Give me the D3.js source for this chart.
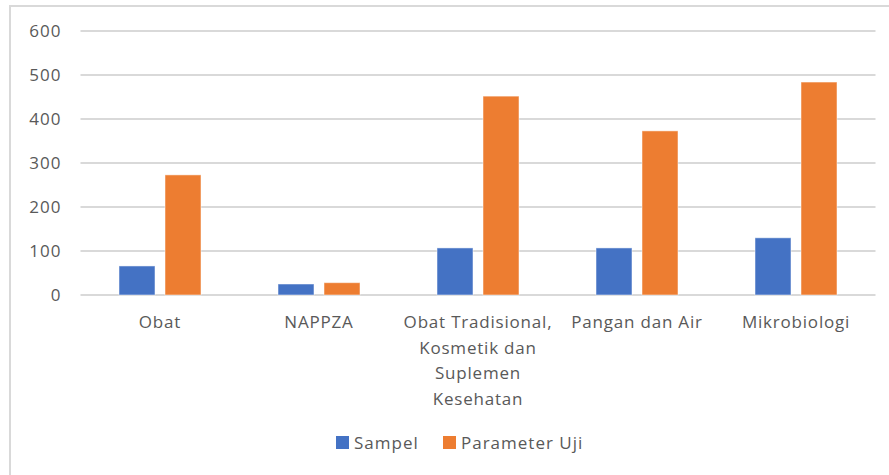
<!DOCTYPE html>
<html>
<head>
<meta charset="utf-8">
<script src="https://cdn.jsdelivr.net/npm/d3@7"></script>
<style>
  body { margin: 0; background: #fff; }
  text { font-family: "Open Sans", "Liberation Sans", sans-serif; fill: #595959; }
</style>
</head>
<body>
<svg id="chart"></svg>
<script>
const categories = ["Obat", "NAPPZA", "Obat Tradisional, Kosmetik dan Suplemen Kesehatan", "Pangan dan Air", "Mikrobiologi"];
const seriesNames = ["Sampel", "Parameter Uji"];
const sampel = [66, 25, 107, 107, 130];
const parameterUji = [273, 28, 452, 373, 484];
const yTicks = [0, 100, 200, 300, 400, 500, 600];
const colors = ["#4472c4", "#ed7d31"];

const W = 889, H = 475;
const margin = {top: 31, right: 13.5, bottom: 180, left: 80.5};
const width = W - margin.left - margin.right,
    height = H - margin.top - margin.bottom;

const svgRoot = d3.select("#chart").attr("width", W).attr("height", H);

// outer frame (only left and top visible)
svgRoot.append("path")
    .attr("d", `M10,${H} V6 H${W}`)
    .attr("fill", "none")
    .attr("stroke", "#d9d9d9")
    .attr("stroke-width", 2);

const svg = svgRoot.append("g")
    .attr("transform", `translate(${margin.left}, ${margin.top})`);

const x0 = d3.scaleBand().domain(categories).range([0, width]);
const x1 = d3.scaleBand().domain(seriesNames)
    .range([38.5, x0.bandwidth() - 38.5])
    .paddingInner(10 / 46);
const y = d3.scaleLinear().domain([0, 600]).range([height, 0]);

// gridlines
svg.append("g")
    .selectAll("line")
    .data(yTicks)
    .enter().append("line")
    .attr("x1", 0).attr("x2", width)
    .attr("y1", d => y(d)).attr("y2", d => y(d))
    .attr("stroke", "#d9d9d9")
    .attr("stroke-width", 2);

// y axis labels
const yAxis = svg.append("g")
    .call(d3.axisLeft(y).tickValues(yTicks).tickSize(0).tickPadding(19));
yAxis.select(".domain").remove();
yAxis.selectAll("text")
    .attr("font-size", 17)
    .attr("fill", "#595959")
    .attr("letter-spacing", 1)
    .style("font-family", '"Open Sans", sans-serif');

// bars
const rows = categories.map((c, i) => ({cat: c, values: [sampel[i], parameterUji[i]]}));
svg.append("g")
    .selectAll("g")
    .data(rows)
    .enter().append("g")
    .attr("transform", d => `translate(${x0(d.cat)}, 0)`)
    .selectAll("rect")
    .data(d => d.values.map((v, j) => ({name: seriesNames[j], value: v, j: j})))
    .enter().append("rect")
    .attr("x", d => x1(d.name))
    .attr("width", x1.bandwidth())
    .attr("y", d => y(d.value))
    .attr("height", d => height - y(d.value))
    .attr("fill", d => colors[d.j])
    .attr("stroke", "#fff")
    .attr("stroke-opacity", 0.5)
    .attr("stroke-width", 1);

// category labels, wrapped
const xAxis = svg.append("g")
    .attr("transform", `translate(0, ${height})`);
xAxis.selectAll("text")
    .data(categories)
    .enter().append("text")
    .attr("x", d => x0(d) + x0.bandwidth() / 2)
    .attr("y", 33)
    .attr("text-anchor", "middle")
    .attr("font-size", 17)
    .attr("letter-spacing", 0.8)
    .each(function (d) {
        const el = d3.select(this);
        const words = d.split(" ");
        let line = [];
        let tspan = el.append("tspan").attr("x", x0(d) + x0.bandwidth() / 2).attr("dy", 0);
        words.forEach(w => {
            line.push(w);
            tspan.text(line.join(" "));
            if (tspan.node().getComputedTextLength() > 156 && line.length > 1) {
                line.pop();
                tspan.text(line.join(" "));
                line = [w];
                tspan = el.append("tspan")
                    .attr("x", x0(d) + x0.bandwidth() / 2)
                    .attr("dy", 25.5)
                    .text(w);
            }
        });
    });

// legend
const legend = svgRoot.append("g").attr("transform", "translate(336, 436)");
const legendX = [0, 107];
seriesNames.forEach((s, i) => {
    const g = legend.append("g").attr("transform", `translate(${legendX[i]}, 0)`);
    g.append("rect").attr("width", 13).attr("height", 13).attr("fill", colors[i]);
    g.append("text").attr("x", 18).attr("y", 13).attr("font-size", 17)
        .attr("letter-spacing", 1).text(s);
});
</script>
</body>
</html>
